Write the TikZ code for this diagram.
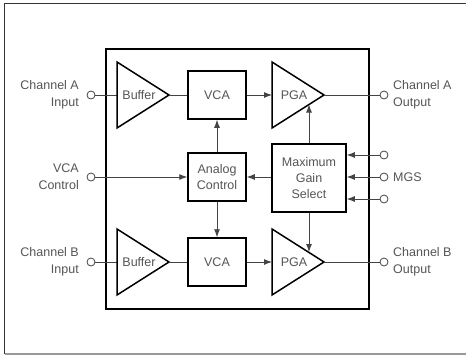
\documentclass[tikz,border=0pt]{standalone}
\usepackage{fontspec}
\setmainfont{Liberation Sans}
\usetikzlibrary{arrows.meta}
\definecolor{txt}{HTML}{555555}
\definecolor{wire}{HTML}{444444}
\begin{document}
\begin{tikzpicture}[x=1pt,y=-1pt,
  blk/.style={draw=black,line width=1.5pt,fill=white},
  wirel/.style={draw=wire,line width=0.9pt},
  arr/.style={wirel,-{Latex[length=8pt,width=6pt]}},
  pin/.style={circle,draw=wire,line width=0.8pt,fill=white,minimum size=8pt,inner sep=0pt},
  lbl/.style={text=txt,font=\fontsize{12.5}{17}\selectfont,inner sep=0pt,align=left},
  lblr/.style={text=txt,font=\fontsize{12.5}{17}\selectfont,inner sep=0pt,align=right},
  intxt/.style={text=txt,font=\fontsize{12.5}{16}\selectfont,inner sep=0pt,align=center}]
\useasboundingbox (0,0) rectangle (466,356);
% outer frame
\draw[draw=black!80,line width=1.6pt] (4.5,354) -- (4.5,3.5) -- (466,3.5);
\draw[draw=black!40,line width=1.2pt] (4.5,354) -- (466,354);
% inner chip box
\draw[blk] (106,49) rectangle (369,309);
% channel A
\coordinate (inA) at (91,95);
\draw[wirel] (inA) -- (117,95);
\draw[blk] (117,62) -- (169,95) -- (117,128) -- cycle;
\node[intxt] (bufA) at (139,95) {Buffer};
\coordinate (bufAtip) at (169,95);
\node[blk,minimum width=58pt,minimum height=48pt,inner sep=0pt] (vcaA) at (217,95) {};
\node[intxt] at (vcaA) {VCA};
\draw[wirel] (bufAtip) -- (vcaA.west);
\draw[blk] (272,62) -- (324,95) -- (272,128) -- cycle;
\node[intxt] (pgaA) at (294,95) {PGA};
\coordinate (pgaAin) at (272,95);
\coordinate (pgaAtip) at (324,95);
\draw[arr] (vcaA.east) -- (pgaAin);
\coordinate (outA) at (384,95);
\draw[wirel] (pgaAtip) -- (outA);
\node[pin] (pinInA) at (inA) {};
\node[pin] (pinOutA) at (outA) {};
\node[lblr,anchor=east] at (79,95) {Channel A\\Input};
\node[lbl,anchor=west] at (393,95) {Channel A\\Output};
% channel B
\coordinate (inB) at (91,262);
\draw[wirel] (inB) -- (117,262);
\draw[blk] (117,229) -- (169,262) -- (117,295) -- cycle;
\node[intxt] (bufB) at (139,262) {Buffer};
\coordinate (bufBtip) at (169,262);
\node[blk,minimum width=58pt,minimum height=48pt,inner sep=0pt] (vcaB) at (217,262) {};
\node[intxt] at (vcaB) {VCA};
\draw[wirel] (bufBtip) -- (vcaB.west);
\draw[blk] (272,229) -- (324,262) -- (272,295) -- cycle;
\node[intxt] (pgaB) at (294,262) {PGA};
\coordinate (pgaBin) at (272,262);
\coordinate (pgaBtip) at (324,262);
\draw[arr] (vcaB.east) -- (pgaBin);
\coordinate (outB) at (384,262);
\draw[wirel] (pgaBtip) -- (outB);
\node[pin] (pinInB) at (inB) {};
\node[pin] (pinOutB) at (outB) {};
\node[lblr,anchor=east] at (79,262) {Channel B\\Input};
\node[lbl,anchor=west] at (393,262) {Channel B\\Output};
% analog control
\node[blk,minimum width=58pt,minimum height=48pt,inner sep=0pt] (ac) at (217,177) {};
\node[intxt] at (ac) {Analog\\Control};
\coordinate (inV) at (91,177);
\draw[arr] (inV) -- (ac.west);
\node[pin] (pinV) at (inV) {};
\node[lblr,anchor=east] at (79,177) {VCA\\Control};
\draw[arr] (ac.north) -- (vcaA.south);
\draw[arr] (ac.south) -- (vcaB.north);
% max gain select
\node[blk,minimum width=74pt,minimum height=68pt,inner sep=0pt] (mgs) at (309,178) {};
\node[intxt] at (mgs) {Maximum\\Gain\\Select};
\draw[arr] (mgs.west |- ac.east) -- (ac.east);
\coordinate (pgaAedge) at (309,104.5);
\coordinate (pgaBedge) at (309,252);
\draw[arr] (mgs.north) -- (pgaAedge);
\draw[arr] (mgs.south) -- (pgaBedge);
\coordinate (g1) at (384,155);
\coordinate (g2) at (384,177);
\coordinate (g3) at (384,199);
\draw[arr] (g1) -- (mgs.east |- g1);
\draw[arr] (g2) -- (mgs.east |- g2);
\draw[arr] (g3) -- (mgs.east |- g3);
\node[pin] (pg1) at (g1) {};
\node[pin] (pg2) at (g2) {};
\node[pin] (pg3) at (g3) {};
\node[lbl,anchor=west] at (393,177) {MGS};
\end{tikzpicture}
\end{document}
